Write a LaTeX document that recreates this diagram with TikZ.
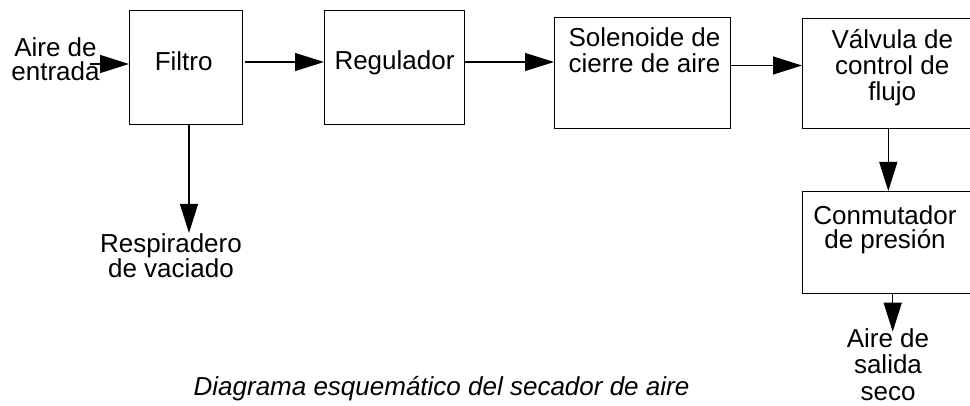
\documentclass[tikz,border=0pt]{standalone}
\usepackage{fontspec}
\setmainfont{Liberation Sans}
\usetikzlibrary{arrows.meta}
\tikzset{
  blk/.style={draw, line width=1.2pt, inner sep=0pt, anchor=north west},
  lbl/.style={inner sep=0pt, anchor=north, align=center, font=\fontsize{26}{26}\selectfont},
  arr/.style={line width=1.2pt, -{Triangle[length=29pt,width=18pt]}},
}
\newcommand{\tl}{\rule{0pt}{25pt}}
\begin{document}
\begin{tikzpicture}[x=1pt,y=-1pt]
\useasboundingbox (0,0) rectangle (970,406);
\fill[white] (0,0) rectangle (970,406);
\clip (0,0) rectangle (970,406);
% boxes
\node[blk, minimum width=113pt, minimum height=114pt] (filtro) at (129,10) {};
\node[blk, minimum width=140pt, minimum height=114pt] (reg) at (324,10) {};
\node[blk, minimum width=176pt, minimum height=111pt] (sol) at (554,17) {};
\node[blk, minimum width=180pt, minimum height=110pt] (valv) at (802,18) {};
\node[blk, minimum width=180pt, minimum height=102pt] (conm) at (802,191) {};
% texts
\node[lbl, font=\fontsize{26}{24.5}\selectfont] (entrada) at (55.5,31) {\tl Aire de\\entrada};
\node[lbl] (tfiltro) at (183.7,45) {\tl Filtro};
\node[lbl] (treg) at (394.5,44) {\tl Regulador};
\node[lbl, font=\fontsize{26}{26.7}\selectfont] (tsol) at (644.5,21) {\tl Solenoide de\\cierre de aire};
\node[lbl] (tvalv) at (892.3,23.3) {\tl Válvula de\\control de\\flujo};
\node[lbl, font=\fontsize{26}{24.5}\selectfont] (tconm) at (885,199) {\tl Conmutador\\de presión};
\node[lbl, font=\fontsize{26}{25}\selectfont] (resp) at (171,227) {\tl Respiradero\\de vaciado};
\node[lbl, font=\fontsize{26}{26.5}\selectfont] (salida) at (888,322) {\tl Aire de\\salida\\seco};
\node[lbl, font=\fontsize{26}{26}\selectfont\itshape] (caption) at (441.5,370) {\tl Diagrama esquemático del secador de aire};
% connectors
\coordinate (in) at (90,64);
\draw[arr] (in) -- (filtro.west |- in);
\draw[arr] (245,0 |- 0,62) -- (reg.west |- 0,62);
\draw[arr] (reg.east |- 0,62) -- (sol.west |- 0,62);
\draw[arr] (sol.east |- 0,65.5) -- (valv.west |- 0,65.5);
\draw[arr] (189,0 |- filtro.south) -- (189,233);
\draw[arr] (888.3,0 |- valv.south) -- (888.3,0 |- conm.north);
\draw[arr] (892.7,0 |- conm.south) -- (892.7,331.7);
\end{tikzpicture}
\end{document}
